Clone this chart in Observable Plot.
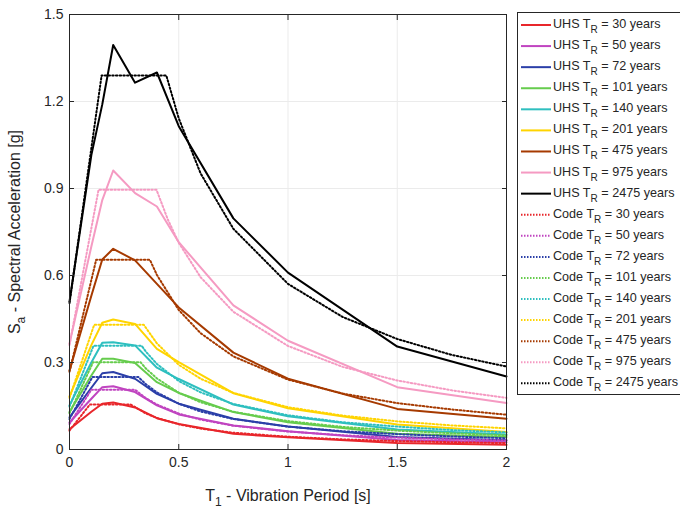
<!DOCTYPE html>
<html><head><meta charset="utf-8">
<script src="https://cdn.jsdelivr.net/npm/d3@7"></script>
<script src="https://cdn.jsdelivr.net/npm/@observablehq/plot@0.6"></script>
<style>
body{margin:0;background:#fff;font-family:"Liberation Sans",Arial,sans-serif;}
#wrap{position:relative;width:680px;height:508px;overflow:hidden;background:#fff;}
#chart{position:absolute;left:0;top:0;}
#overlay{position:absolute;left:0;top:0;}
</style></head><body>
<div id="wrap"><div id="chart"></div><svg id="overlay" width="680" height="508"></svg></div>
<script>
// Return periods (years) and colours
const returnPeriods = [30, 50, 72, 101, 140, 201, 475, 975, 2475];
const seriesColors = ["#e8262b", "#c044c0", "#2b3fa8", "#66cc4d", "#2ebfbf", "#ffd400", "#a63a00", "#f59ac2", "#000000"];

// Tick values
const xTicks = [0, 0.5, 1, 1.5, 2];
const yTicks = [0, 0.3, 0.6, 0.9, 1.2, 1.5];

// UHS spectra: periods (s) and Sa (g)
const uhsPeriods = [0, 0.1, 0.15, 0.2, 0.3, 0.4, 0.5, 0.75, 1, 1.5, 2];
const uhs30   = [0.070, 0.130, 0.158, 0.162, 0.145, 0.108, 0.088, 0.054, 0.042, 0.022, 0.016];
const uhs50   = [0.093, 0.175, 0.215, 0.218, 0.198, 0.152, 0.121, 0.083, 0.063, 0.033, 0.025];
const uhs72   = [0.111, 0.213, 0.263, 0.267, 0.244, 0.192, 0.158, 0.106, 0.079, 0.043, 0.032];
const uhs101  = [0.129, 0.255, 0.313, 0.313, 0.298, 0.232, 0.195, 0.129, 0.094, 0.054, 0.043];
const uhs140  = [0.152, 0.300, 0.368, 0.370, 0.359, 0.282, 0.243, 0.155, 0.115, 0.069, 0.052];
const uhs201  = [0.183, 0.360, 0.437, 0.448, 0.433, 0.347, 0.301, 0.194, 0.142, 0.086, 0.060];
const uhs475  = [0.272, 0.530, 0.655, 0.692, 0.652, 0.571, 0.490, 0.334, 0.244, 0.140, 0.106];
const uhs975  = [0.365, 0.700, 0.860, 0.962, 0.884, 0.838, 0.715, 0.497, 0.375, 0.215, 0.160];
const uhs2475 = [0.510, 1.015, 1.190, 1.395, 1.265, 1.300, 1.115, 0.797, 0.610, 0.355, 0.252];
const uhsSeries = [uhs30, uhs50, uhs72, uhs101, uhs140, uhs201, uhs475, uhs975, uhs2475];

// Code spectra: [period (s), Sa (g)] pairs
const code30   = [[0,0.065],[0.093,0.155],[0.28,0.155],[0.35,0.124],[0.4,0.109],[0.5,0.087],[0.6,0.072],[0.75,0.058],[1,0.044],[1.25,0.035],[1.5,0.029],[1.75,0.025],[2,0.022]];
const code50   = [[0,0.088],[0.1,0.206],[0.3,0.206],[0.35,0.177],[0.4,0.155],[0.5,0.124],[0.6,0.103],[0.75,0.082],[1,0.062],[1.25,0.049],[1.5,0.041],[1.75,0.035],[2,0.031]];
const code72   = [[0,0.105],[0.105,0.25],[0.315,0.25],[0.35,0.225],[0.4,0.197],[0.5,0.158],[0.6,0.131],[0.75,0.105],[1,0.079],[1.25,0.063],[1.5,0.053],[1.75,0.045],[2,0.039]];
const code101  = [[0,0.125],[0.108,0.301],[0.325,0.301],[0.35,0.279],[0.4,0.245],[0.5,0.196],[0.6,0.163],[0.75,0.13],[1,0.098],[1.25,0.078],[1.5,0.065],[1.75,0.056],[2,0.049]];
const code140  = [[0,0.148],[0.11,0.358],[0.33,0.358],[0.35,0.337],[0.4,0.295],[0.5,0.236],[0.6,0.197],[0.75,0.157],[1,0.118],[1.25,0.094],[1.5,0.079],[1.75,0.067],[2,0.059]];
const code201  = [[0,0.178],[0.113,0.43],[0.34,0.43],[0.4,0.366],[0.5,0.292],[0.6,0.244],[0.75,0.195],[1,0.146],[1.25,0.117],[1.5,0.097],[1.75,0.083],[2,0.073]];
const code475  = [[0,0.268],[0.122,0.654],[0.368,0.654],[0.4,0.602],[0.5,0.481],[0.6,0.401],[0.75,0.321],[1,0.241],[1.25,0.193],[1.5,0.16],[1.75,0.138],[2,0.12]];
const code975  = [[0,0.36],[0.133,0.896],[0.398,0.896],[0.45,0.793],[0.5,0.713],[0.6,0.594],[0.75,0.475],[1,0.357],[1.25,0.285],[1.5,0.238],[1.75,0.204],[2,0.178]];
const code2475 = [[0,0.505],[0.147,1.29],[0.443,1.29],[0.5,1.142],[0.6,0.952],[0.75,0.761],[1,0.571],[1.25,0.457],[1.5,0.381],[1.75,0.326],[2,0.286]];
const codeSeries = [code30, code50, code72, code101, code140, code201, code475, code975, code2475];

// Build tables
const uhsRows = [];
uhsSeries.forEach((vals, k) => vals.forEach((v, j) => uhsRows.push({T: uhsPeriods[j], Sa: v, k})));
const codeRows = [];
codeSeries.forEach((pts, k) => pts.forEach(([T, Sa]) => codeRows.push({T, Sa, k})));
const seriesIdx = returnPeriods.map((_, i) => i);

const axisColor = "#262626";
const fmt = d => String(d);
const chart = Plot.plot({
  width: 514, height: 508,
  marginLeft: 69, marginRight: 8, marginTop: 14, marginBottom: 59,
  style: {fontFamily: "'Liberation Sans', Arial, sans-serif", fontSize: "14px", color: axisColor, background: "transparent"},
  x: {domain: [0, 2]},
  y: {domain: [0, 1.5]},
  color: {domain: seriesIdx, range: seriesColors},
  marks: [
    Plot.gridX(xTicks, {stroke: "#ebebeb", strokeOpacity: 1}),
    Plot.gridY(yTicks, {stroke: "#ebebeb", strokeOpacity: 1}),
    Plot.line(uhsRows, {x: "T", y: "Sa", z: "k", stroke: "k", strokeWidth: 2}),
    Plot.line(codeRows, {x: "T", y: "Sa", z: "k", stroke: "k", strokeWidth: 2, strokeDasharray: "1.5,2.2"}),
    Plot.frame({stroke: axisColor, strokeWidth: 1}),
    Plot.axisX(xTicks, {tickSize: -5, tickPadding: 13, tickFormat: fmt, label: null, stroke: axisColor}),
    Plot.axisX(xTicks, {anchor: "top", tickSize: -5, tickFormat: () => "", label: null, stroke: axisColor}),
    Plot.axisY(yTicks, {tickSize: -5, tickPadding: 11, tickFormat: fmt, label: null, stroke: axisColor}),
    Plot.axisY(yTicks, {anchor: "right", tickSize: -5, tickFormat: () => "", label: null, stroke: axisColor})
  ]
});
document.getElementById("chart").appendChild(chart);

// Overlay: axis titles and legend
const svg = d3.select("#overlay").style("font-family", "'Liberation Sans', Arial, sans-serif");

const yl = svg.append("text").attr("transform", "translate(20,232) rotate(-90)")
  .attr("text-anchor", "middle").attr("font-size", 16).attr("fill", axisColor);
yl.append("tspan").text("S");
yl.append("tspan").attr("dy", 5).attr("font-size", 12).text("a");
yl.append("tspan").attr("dy", -5).text(" - Spectral Acceleration [g]");

const xl = svg.append("text").attr("x", 288).attr("y", 501)
  .attr("text-anchor", "middle").attr("font-size", 16).attr("fill", axisColor);
xl.append("tspan").text("T");
xl.append("tspan").attr("dy", 5).attr("font-size", 12).text("1");
xl.append("tspan").attr("dy", -5).text(" - Vibration Period [s]");

// Legend
svg.append("rect").attr("x", 517.5).attr("y", 12.5).attr("width", 200).attr("height", 382)
  .attr("fill", "#fff").attr("stroke", axisColor).attr("stroke-width", 1);
const legendItems = [];
returnPeriods.forEach((rp, k) => legendItems.push({prefix: "UHS", rp, k, dash: null}));
returnPeriods.forEach((rp, k) => legendItems.push({prefix: "Code", rp, k, dash: "1.5,1.5"}));
legendItems.forEach((d, i) => {
  const y = 25 + i * 21.08;
  const ln = svg.append("line").attr("x1", 521).attr("x2", 551).attr("y1", y).attr("y2", y)
    .attr("stroke", seriesColors[d.k]).attr("stroke-width", 2);
  if (d.dash) ln.attr("stroke-dasharray", d.dash);
  const t = svg.append("text").attr("x", 553).attr("y", y + 3).attr("font-size", 12.6).attr("fill", axisColor);
  t.append("tspan").text(d.prefix + " T");
  t.append("tspan").attr("dy", 5).attr("font-size", 10).text("R");
  t.append("tspan").attr("dy", -5).text(" = " + d.rp + " years");
});
</script>
</body></html>
